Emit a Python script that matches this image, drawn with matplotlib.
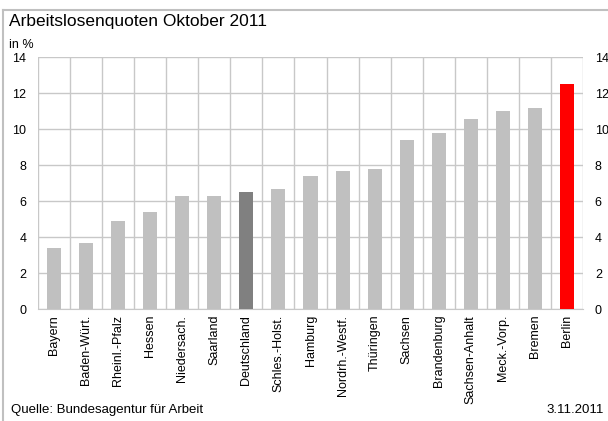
import numpy as np
import matplotlib.pyplot as plt
from matplotlib.lines import Line2D

plt.rcParams['font.family'] = ['Liberation Sans', 'DejaVu Sans']

# Arbeitslosenquoten Oktober 2011 (in %)
laender = ['Bayern', 'Baden-Würt.', 'Rheinl.-Pfalz', 'Hessen', 'Niedersach.',
           'Saarland', 'Deutschland', 'Schles.-Holst.', 'Hamburg', 'Nordrh.-Westf.',
           'Thüringen', 'Sachsen', 'Brandenburg', 'Sachsen-Anhalt', 'Meck.-Vorp.',
           'Bremen', 'Berlin']
quoten = [3.4, 3.7, 4.9, 5.4, 6.3, 6.3, 6.5, 6.7, 7.4, 7.7,
          7.8, 9.4, 9.8, 10.6, 11.0, 11.2, 12.5]
y_ticks = [0, 2, 4, 6, 8, 10, 12, 14]

farben = []
for name in laender:
    if name == 'Deutschland':
        farben.append('#808080')
    elif name == 'Berlin':
        farben.append('#ff0000')
    else:
        farben.append('#c0c0c0')

fig = plt.figure(figsize=(6.08, 4.21), dpi=100)
ax = fig.add_axes([0.0625, 0.2653, 0.8964, 0.5986])

x = np.arange(len(laender))
ax.bar(x, quoten, width=0.44, color=farben, zorder=3)

ax.set_xlim(-0.5, len(laender) - 0.5)
ax.set_ylim(0, 14)

# Gitter
ax.set_yticks(y_ticks)
ax.set_xticks(x)
ax.set_xticks(np.arange(len(laender) + 1) - 0.5, minor=True)
ax.grid(True, which='minor', axis='x', color='#c8c8c8', lw=1, zorder=0)
ax.grid(True, which='major', axis='y', color='#c8c8c8', lw=1, zorder=0)
for s in ['top', 'left', 'right']:
    ax.spines[s].set_visible(False)
ax.spines['bottom'].set_color('#c8c8c8')

ax.tick_params(axis='both', which='both', length=0)
ax.tick_params(axis='y', labelsize=9, pad=8.5, labelright=True)
ax.set_xticklabels(laender, rotation=90, fontsize=9)
ax.tick_params(axis='x', pad=4)

fig.text(0.015, 0.95, 'Arbeitslosenquoten Oktober 2011', fontsize=12.5, va='center')
fig.text(0.015, 0.893, 'in %', fontsize=9, va='center')
fig.text(0.018, 0.026, 'Quelle: Bundesagentur für Arbeit', fontsize=9.5, va='center')
fig.text(0.993, 0.026, '3.11.2011', fontsize=9.5, va='center', ha='right')

# Rahmen oben und links
fig.add_artist(Line2D([0.005, 1], [0.976, 0.976], color='#c0c0c0', lw=1.5))
fig.add_artist(Line2D([0.005, 0.005], [0, 0.976], color='#c0c0c0', lw=1.5))

fig.savefig('out.png', dpi=100)
